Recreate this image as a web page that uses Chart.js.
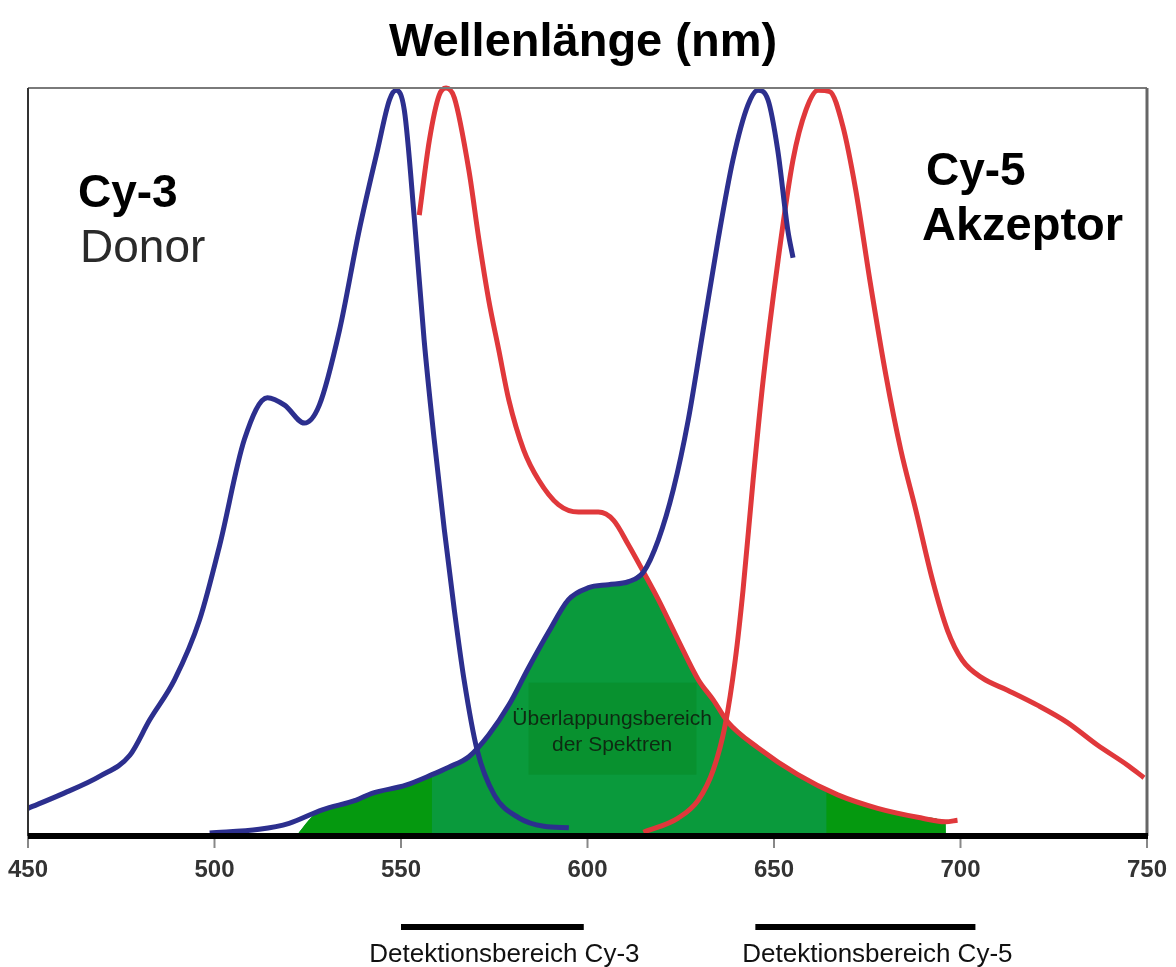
<!DOCTYPE html>
<html>
<head>
<meta charset="utf-8">
<script src="https://cdn.jsdelivr.net/npm/chart.js@4/dist/chart.umd.min.js"></script>
<style>
html,body{margin:0;padding:0;background:#fff;}
#wrap{width:1176px;height:967px;}
</style>
</head>
<body>
<div id="wrap"><canvas id="c" width="1176" height="967"></canvas></div>
<script>
// ---- data (wavelength in nm, relative intensity 0..1) ----
const xTickLabels = [450, 500, 550, 600, 650, 700, 750];

const cy3AbsNm  = [450,458.6,469.3,477.3,482.6,489.3,496,501.4,508,514.2,518.8,524.1,528.1,533.5,538.8,543.7,546.9,548.7,550.9,553.6,556.2,558.9,561.6,564.3,566.9,570.4,575,581.7,588.3,595];
const cy3AbsVal = [0.037,0.055,0.08,0.108,0.155,0.209,0.289,0.389,0.53,0.586,0.576,0.552,0.576,0.676,0.81,0.917,0.984,0.997,0.97,0.824,0.663,0.53,0.41,0.302,0.209,0.115,0.055,0.024,0.013,0.011];

const cy3EmNm  = [554.9,557.6,560.2,562.1,564.3,568.2,570.9,573.5,576.2,578.9,582.9,586.9,592.2,597.6,602.9,607,611,615,619,624.3,629.7,633.7,637.7,645.7,656.4,667.1,677.8,688.5,696,699.2];
const cy3EmVal = [0.83,0.93,0.99,1.0,0.987,0.89,0.797,0.717,0.65,0.583,0.516,0.476,0.443,0.433,0.433,0.422,0.389,0.353,0.316,0.262,0.209,0.182,0.152,0.118,0.082,0.055,0.037,0.025,0.019,0.021];

const cy5AbsNm  = [498.7,512,520,528.9,538,542.2,551.3,558.3,562.8,568.2,573.5,578.9,584.2,589.6,594.9,600.3,605.6,611,615,619,623,627,631,635,639,643,645.7,648.4,651,653.7,655.1];
const cy5AbsVal = [0.004,0.009,0.017,0.035,0.048,0.057,0.068,0.082,0.092,0.106,0.135,0.175,0.225,0.273,0.316,0.332,0.336,0.34,0.353,0.396,0.463,0.556,0.676,0.797,0.904,0.977,0.997,0.984,0.917,0.81,0.773];

const cy5EmNm  = [615,624.3,629.7,633.7,636.9,639.6,641.7,644.4,647.1,651.1,655.1,658.6,661.8,665,668.4,671.9,675.7,680,684,688,692.5,696.5,700.5,705.9,712.6,720.6,728.6,736.6,744.7,749.2];
const cy5EmVal = [0.005,0.024,0.048,0.088,0.148,0.235,0.329,0.476,0.61,0.77,0.904,0.971,0.997,0.995,0.95,0.864,0.743,0.616,0.516,0.436,0.342,0.275,0.235,0.211,0.195,0.175,0.152,0.122,0.095,0.078];

// overlap region (upper boundary)
const overlapNm  = [522.5,526,528.9,538,542.2,551.3,558.3,562.8,568.2,573.5,578.9,584.2,589.6,594.9,600.3,605.6,611,615,619,624.3,629.7,633.7,637.7,645.7,656.4,664,667.1,677.8,688.5,696,696.1];
const overlapVal = [0.004,0.025,0.035,0.048,0.057,0.068,0.082,0.092,0.106,0.135,0.175,0.225,0.273,0.316,0.332,0.336,0.34,0.353,0.316,0.262,0.209,0.182,0.152,0.118,0.082,0.063,0.055,0.037,0.025,0.019,0];
const overlapLeftEnd = 559;     // brighter green edge on the left up to this nm
const overlapRightStart = 664;  // brighter green edge on the right from this nm

// detection ranges (nm)
const detectionLabels = ["Detektionsbereich Cy-3", "Detektionsbereich Cy-5"];
const detectionFrom = [550, 645];
const detectionTo   = [599, 704];

// ---- build ----
const pts = (xs, ys) => xs.map((x, i) => ({x: x, y: ys[i]}));
const overlapPts = pts(overlapNm, overlapVal);
const overlapLeft = overlapPts.filter(p => p.x <= overlapLeftEnd);
const overlapRight = overlapPts.filter(p => p.x >= overlapRightStart);

const BLUE = '#2c2f8e';
const RED = '#e0383b';
const GREEN = '#0a9a3c';
const GREEN_EDGE = '#05990f';
const GREEN_RECT = '#08912f';

function lineDs(data, color, order) {
  return {data: data, borderColor: color, borderWidth: 5, pointRadius: 0,
          fill: false, tension: 0.35, cubicInterpolationMode: 'monotone', order: order, clip: 8};
}
function fillDs(data, color, order) {
  return {data: data, borderWidth: 0, borderColor: 'rgba(0,0,0,0)', backgroundColor: color,
          pointRadius: 0, fill: 'origin', tension: 0.3, cubicInterpolationMode: 'monotone', order: order};
}

const decor = {
  id: 'decor',
  afterDatasetDraw(chart, args) {
    if (args.index !== 0) return;
    const ctx = chart.ctx, xs = chart.scales.x, ys = chart.scales.y;
    // label rectangle inside the overlap
    const l = xs.getPixelForValue(584.2), r = xs.getPixelForValue(629.2);
    const t = ys.getPixelForValue(0.205), b = ys.getPixelForValue(0.082);
    ctx.save();
    ctx.fillStyle = GREEN_RECT;
    ctx.fillRect(l, t, r - l, b - t);
    ctx.restore();
  },
  afterDraw(chart) {
    const ctx = chart.ctx, a = chart.chartArea, xs = chart.scales.x, ys = chart.scales.y;
    ctx.save();
    // frame
    ctx.strokeStyle = '#7a7a7a'; ctx.lineWidth = 2;
    ctx.beginPath(); ctx.moveTo(a.left, a.top); ctx.lineTo(a.right, a.top); ctx.stroke();
    ctx.strokeStyle = '#333'; ctx.lineWidth = 2;
    ctx.beginPath(); ctx.moveTo(a.left, a.top); ctx.lineTo(a.left, a.bottom); ctx.stroke();
    ctx.strokeStyle = '#666'; ctx.lineWidth = 3;
    ctx.beginPath(); ctx.moveTo(a.right, a.top); ctx.lineTo(a.right, a.bottom); ctx.stroke();
    // ticks
    ctx.strokeStyle = '#888'; ctx.lineWidth = 2;
    ctx.fillStyle = '#333';
    ctx.font = 'bold 24px "Liberation Sans", Arial, sans-serif';
    ctx.textAlign = 'center'; ctx.textBaseline = 'alphabetic';
    xTickLabels.forEach(v => {
      const px = xs.getPixelForValue(v);
      ctx.beginPath(); ctx.moveTo(px, a.bottom); ctx.lineTo(px, a.bottom + 12); ctx.stroke();
      ctx.fillText(String(v), px, a.bottom + 41);
    });
    // baseline
    ctx.strokeStyle = '#000'; ctx.lineWidth = 6;
    ctx.beginPath(); ctx.moveTo(a.left, a.bottom); ctx.lineTo(a.right + 1, a.bottom); ctx.stroke();
    // detection bars
    ctx.lineWidth = 6;
    ctx.fillStyle = '#111';
    ctx.font = '26px "Liberation Sans", Arial, sans-serif';
    detectionLabels.forEach((lab, i) => {
      const x0 = xs.getPixelForValue(detectionFrom[i]), x1 = xs.getPixelForValue(detectionTo[i]);
      ctx.beginPath(); ctx.moveTo(x0, 927); ctx.lineTo(x1, 927); ctx.stroke();
      ctx.fillText(lab, (x0 + x1) / 2 + 12, 962);
    });
    // title
    ctx.fillStyle = '#000';
    ctx.font = 'bold 47px "Liberation Sans", Arial, sans-serif';
    ctx.fillText('Wellenlänge (nm)', 583, 56);
    // dye labels
    ctx.textAlign = 'left';
    ctx.font = 'bold 46px "Liberation Sans", Arial, sans-serif';
    ctx.fillText('Cy-3', 78, 207);
    ctx.fillText('Cy-5', 926, 185);
    ctx.font = 'bold 47px "Liberation Sans", Arial, sans-serif';
    ctx.fillText('Akzeptor', 922, 240);
    ctx.fillStyle = '#2a2a2a';
    ctx.font = '46px "Liberation Sans", Arial, sans-serif';
    ctx.fillText('Donor', 80, 262);
    // overlap label
    ctx.textAlign = 'center';
    ctx.fillStyle = '#0e2a12';
    ctx.font = '21px "Liberation Sans", Arial, sans-serif';
    const cx = xs.getPixelForValue(606.6);
    ctx.fillText('Überlappungsbereich', cx, 725);
    ctx.fillText('der Spektren', cx, 751);
    ctx.restore();
  }
};

new Chart(document.getElementById('c'), {
  type: 'line',
  data: {
    datasets: [
      fillDs(overlapPts, GREEN, 10),
      fillDs(overlapLeft, GREEN_EDGE, 9),
      fillDs(overlapRight, GREEN_EDGE, 8),
      lineDs(pts(cy5EmNm, cy5EmVal), RED, 4),
      lineDs(pts(cy3EmNm, cy3EmVal), RED, 3),
      lineDs(pts(cy5AbsNm, cy5AbsVal), BLUE, 2),
      lineDs(pts(cy3AbsNm, cy3AbsVal), BLUE, 1)
    ]
  },
  options: {
    responsive: false,
    animation: false,
    layout: {padding: {left: 28, right: 29, top: 88, bottom: 131}},
    plugins: {legend: {display: false}, tooltip: {enabled: false}, title: {display: false}},
    scales: {
      x: {type: 'linear', min: 450, max: 750, display: false},
      y: {min: 0, max: 1, display: false}
    }
  },
  plugins: [decor]
});
</script>
</body>
</html>
